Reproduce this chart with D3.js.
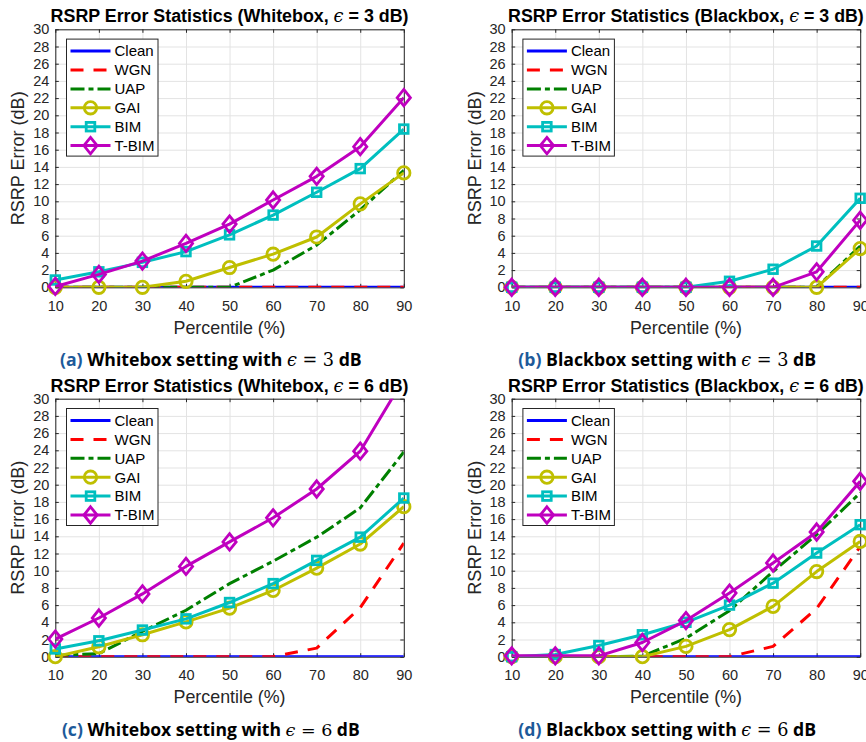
<!DOCTYPE html>
<html>
<head>
<meta charset="utf-8">
<script src="https://cdn.jsdelivr.net/npm/d3@7"></script>
<style>
body { margin: 0; background: #fff; }
svg { display: block; }
</style>
</head>
<body>
<svg id="fig" width="866" height="742"></svg>
<script>

var percentiles = [10, 20, 30, 40, 50, 60, 70, 80, 90];
var seriesNames = ["Clean", "WGN", "UAP", "GAI", "BIM", "T-BIM"];
var yTicks = d3.range(0, 31, 2);

// rows follow seriesNames order
var whitebox3 = [
    [0, 0, 0, 0, 0, 0, 0, 0, 0],
    [0, 0, 0, 0, 0, 0, 0, 0, 0],
    [0, 0, 0, 0, 0, 2.0, 4.9, 9.0, 13.6],
    [0, 0, 0, 0.7, 2.3, 3.85, 5.85, 9.7, 13.3],
    [0.85, 1.8, 2.9, 4.15, 6.1, 8.4, 11.05, 13.8, 18.4],
    [0.1, 1.5, 3.05, 5.1, 7.35, 10.15, 12.9, 16.35, 22.05]
];
var blackbox3 = [
    [0, 0, 0, 0, 0, 0, 0, 0, 0],
    [0, 0, 0, 0, 0, 0, 0, 0, 0],
    [0, 0, 0, 0, 0, 0, 0, 0, 4.8],
    [0, 0, 0, 0, 0, 0, 0, 0, 4.5],
    [0, 0, 0, 0, 0, 0.7, 2.1, 4.8, 10.35],
    [0, 0, 0, 0, 0, 0, 0, 1.8, 7.8]
];
var whitebox6 = [
    [0, 0, 0, 0, 0, 0, 0, 0, 0],
    [0, 0, 0, 0, 0, 0, 1.0, 5.7, 13.2],
    [0.15, 0.35, 2.95, 5.4, 8.5, 11.1, 13.9, 17.3, 23.8],
    [0, 1.15, 2.55, 4.05, 5.65, 7.7, 10.3, 13.1, 17.45],
    [0.9, 1.85, 3.1, 4.4, 6.3, 8.5, 11.2, 13.9, 18.45],
    [2.05, 4.5, 7.3, 10.5, 13.35, 16.15, 19.5, 23.9, 32.3]
];
var blackbox6 = [
    [0, 0, 0, 0, 0, 0, 0, 0, 0],
    [0, 0, 0, 0, 0, 0, 1.2, 5.6, 12.8],
    [0, 0, 0, 0.05, 2.15, 5.35, 9.9, 14.2, 19.05],
    [0, 0, 0, 0, 1.2, 3.15, 5.85, 9.9, 13.4],
    [0, 0.25, 1.3, 2.55, 4.0, 6.0, 8.55, 12.05, 15.35],
    [0.1, 0.1, 0.1, 1.65, 4.2, 7.4, 10.9, 14.5, 20.4]
];

var styles = [
    {color: "#0000ff", dash: null, marker: null},
    {color: "#ff0000", dash: "13,10", marker: null},
    {color: "#008000", dash: "14,4,5,4", marker: null},
    {color: "#bfbf00", dash: null, marker: "circle"},
    {color: "#00bfbf", dash: null, marker: "square"},
    {color: "#bf00bf", dash: null, marker: "diamond"}
];

var panels = [
    {data: whitebox3, box: "Whitebox", eps: "3", letter: "a", left: 55.3, top: 29.3},
    {data: blackbox3, box: "Blackbox", eps: "3", letter: "b", left: 511.7, top: 29.3},
    {data: whitebox6, box: "Whitebox", eps: "6", letter: "c", left: 55.3, top: 398.7},
    {data: blackbox6, box: "Blackbox", eps: "6", letter: "d", left: 511.7, top: 398.7}
];

var plotW = 348.5, plotH = 258;
var sansFont = "'Liberation Sans', Arial, Helvetica, sans-serif";
var serifFont = "'DejaVu Serif', 'Liberation Serif', serif";
var axisColor = "#262626";

var svg = d3.select("#fig");

// shrink or grow a text so it spans the width seen in the picture
function fitWidth(sel, size, target) {
    var w = sel.node().getBBox().width;
    sel.style("font-size", (size * target / w) + "px");
}

function drawMarker(sel, type, color) {
    if (type == "circle") {
        sel.append("circle").attr("r", 6.2)
            .attr("fill", "none").attr("stroke", color).attr("stroke-width", 2.8);
    } else if (type == "square") {
        sel.append("rect").attr("x", -4.3).attr("y", -4.3)
            .attr("width", 8.6).attr("height", 8.6)
            .attr("fill", "none").attr("stroke", color).attr("stroke-width", 2.8);
    } else if (type == "diamond") {
        sel.append("path").attr("d", "M0,-8.2L6.6,0L0,8.2L-6.6,0Z")
            .attr("fill", "none").attr("stroke", color).attr("stroke-width", 2.8);
    }
}

panels.forEach(function(p, pi) {
    var g = svg.append("g").attr("transform", "translate(" + p.left + "," + p.top + ")");

    var x = d3.scaleLinear().domain([10, 90]).range([0, plotW]);
    var y = d3.scaleLinear().domain([0, 30]).range([plotH, 0]);

    // grid
    g.append("g")
        .attr("transform", "translate(0," + plotH + ")")
        .call(d3.axisBottom(x).tickValues(percentiles).tickSize(-plotH).tickFormat(""))
        .call(function(a) {
            a.select(".domain").remove();
            a.selectAll("line").attr("stroke", "#e3e3e3");
        });
    g.append("g")
        .call(d3.axisLeft(y).tickValues(yTicks).tickSize(-plotW).tickFormat(""))
        .call(function(a) {
            a.select(".domain").remove();
            a.selectAll("line").attr("stroke", "#e3e3e3");
        });

    // box with inward ticks on all sides
    var xb = g.append("g").attr("transform", "translate(0," + plotH + ")")
        .call(d3.axisBottom(x).tickValues(percentiles).tickSize(-3.5).tickSizeOuter(0).tickPadding(13));
    var xt = g.append("g")
        .call(d3.axisTop(x).tickValues(percentiles).tickSize(-3.5).tickSizeOuter(0).tickFormat(""));
    var yl = g.append("g")
        .call(d3.axisLeft(y).tickValues(yTicks).tickSize(-3.5).tickSizeOuter(0).tickPadding(6));
    var yr = g.append("g").attr("transform", "translate(" + plotW + ",0)")
        .call(d3.axisRight(y).tickValues(yTicks).tickSize(-3.5).tickSizeOuter(0).tickFormat(""));
    [xb, xt, yl, yr].forEach(function(a) {
        a.select(".domain").attr("stroke", axisColor).attr("stroke-width", 1);
        a.selectAll("line").attr("stroke", axisColor);
        a.selectAll("text").attr("fill", axisColor)
            .style("font-family", sansFont).style("font-size", "14.5px");
    });

    // clip to the axes
    var clipId = "clip" + pi;
    g.append("clipPath").attr("id", clipId)
        .append("rect").attr("width", plotW).attr("height", plotH);

    var line = d3.line()
        .x(function(d, i) { return x(percentiles[i]); })
        .y(function(d) { return y(d); });

    p.data.forEach(function(vals, si) {
        var st = styles[si];
        g.append("path")
            .datum(vals)
            .attr("clip-path", "url(#" + clipId + ")")
            .attr("d", line)
            .attr("fill", "none")
            .attr("stroke", st.color)
            .attr("stroke-width", 3)
            .attr("stroke-linejoin", "round")
            .attr("stroke-dasharray", st.dash);
        if (st.marker) {
            vals.forEach(function(v, i) {
                if (v > 30) return;
                var m = g.append("g")
                    .attr("transform", "translate(" + x(percentiles[i]) + "," + y(v) + ")");
                drawMarker(m, st.marker, st.color);
            });
        }
    });

    // legend
    var lg = g.append("g").attr("transform", "translate(11.2,9.8)");
    lg.append("rect").attr("width", 91.5).attr("height", 117)
        .attr("fill", "#fff").attr("stroke", axisColor).attr("stroke-width", 1);
    seriesNames.forEach(function(name, si) {
        var st = styles[si];
        var row = lg.append("g").attr("transform", "translate(0," + (12 + si * 18.9) + ")");
        row.append("line").attr("x1", 4).attr("x2", 44)
            .attr("stroke", st.color).attr("stroke-width", 3)
            .attr("stroke-dasharray", st.dash);
        if (st.marker) {
            drawMarker(row.append("g").attr("transform", "translate(24,0)"), st.marker, st.color);
        }
        row.append("text").attr("x", 48).attr("y", 5.3)
            .attr("fill", "#000")
            .style("font-family", sansFont).style("font-size", "15px")
            .text(name);
    });

    // title
    var title = g.append("text")
        .attr("x", plotW / 2).attr("y", -7)
        .attr("text-anchor", "middle")
        .attr("fill", "#000")
        .style("font-family", sansFont).style("font-size", "15px").style("font-weight", "bold");
    title.append("tspan").text("RSRP Error Statistics (" + p.box + ", ");
    title.append("tspan").style("font-family", serifFont).style("font-weight", "normal")
        .style("font-style", "italic").text("\u03f5");
    title.append("tspan").text(" = " + p.eps + " dB)");
    fitWidth(title, 15, p.box == "Whitebox" ? 358 : 356);

    // axis labels
    var xl = g.append("text")
        .attr("x", plotW / 2).attr("y", plotH + 46.5)
        .attr("text-anchor", "middle").attr("fill", axisColor)
        .style("font-family", sansFont).style("font-size", "16px")
        .text("Percentile (%)");
    fitWidth(xl, 16, 112);
    var ylab = g.append("text")
        .attr("transform", "translate(-31,  " + (plotH / 2) + ") rotate(-90)")
        .attr("text-anchor", "middle").attr("fill", axisColor)
        .style("font-family", sansFont).style("font-size", "16px")
        .text("RSRP Error (dB)");
    fitWidth(ylab, 16, 134);

    // caption
    var cap = g.append("text")
        .attr("x", plotW / 2 - 18.7).attr("y", plotH + 79)
        .attr("text-anchor", "middle")
        .attr("fill", "#000")
        .style("font-family", "'Open Sans', 'Noto Sans', sans-serif")
        .style("font-size", "17px").style("font-weight", "bold");
    cap.append("tspan").attr("fill", "#1d5a9a").text("(" + p.letter + ")");
    cap.append("tspan").text(" " + p.box + " setting with ");
    cap.append("tspan").style("font-family", serifFont).style("font-weight", "normal")
        .style("font-style", "italic").text("\u03f5");
    cap.append("tspan").style("font-family", serifFont).style("font-weight", "normal")
        .text(" = " + p.eps);
    cap.append("tspan").text(" dB");
    fitWidth(cap, 17, p.letter == "a" ? 302 : 298);
});

</script>
</body>
</html>
